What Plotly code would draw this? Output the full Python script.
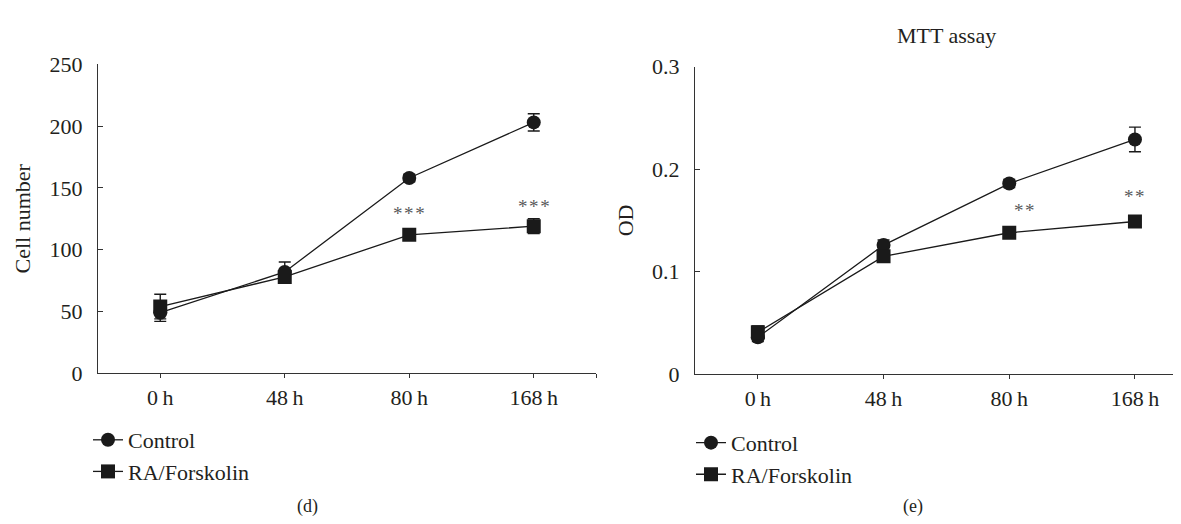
import plotly.graph_objects as go

# ---- data ----
time_labels = ["0\u2009h", "48\u2009h", "80\u2009h", "168\u2009h"]
series_names = ["Control", "RA/Forskolin"]

cell_control = [49, 82, 158, 203]
cell_control_err = [7, 8, 3, 7]
cell_ra = [54, 78, 112, 119]
cell_ra_err = [10, 5, 3, 6]

od_control = [0.036, 0.126, 0.186, 0.229]
od_control_err = [0.004, 0.005, 0.004, 0.012]
od_ra = [0.041, 0.115, 0.138, 0.149]
od_ra_err = [0.006, 0.003, 0.002, 0.003]

cell_sig_text = ["*\u200a*\u200a*", "*\u200a*\u200a*"]
cell_sig_x = [2, 3]
cell_sig_y = [129, 135]
od_sig_text = ["*\u200a*", "*\u200a*"]
od_sig_x = [2.12, 3]
od_sig_y = [0.160, 0.173]

FONT = "Liberation Serif"
TXT = "#231f20"
FS = 22
SIG_COLOR = "#58595b"

idx = list(range(len(time_labels)))

fig = go.Figure()

def add_series(y, err, name, symbol, xa, ya, legend):
    fig.add_trace(go.Scatter(
        x=idx, y=y, name=name, mode="lines+markers",
        xaxis=xa, yaxis=ya, legend=legend, showlegend=True,
        line=dict(color="#1a1a1a", width=1.3),
        marker=dict(symbol=symbol, size=14, color="#1a1a1a"),
        error_y=dict(type="data", array=err, visible=True,
                     color="#1a1a1a", thickness=1.4, width=6),
    ))

add_series(cell_control, cell_control_err, series_names[0], "circle", "x", "y", "legend")
add_series(cell_ra, cell_ra_err, series_names[1], "square", "x", "y", "legend")
add_series(od_control, od_control_err, series_names[0], "circle", "x2", "y2", "legend2")
add_series(od_ra, od_ra_err, series_names[1], "square", "x2", "y2", "legend2")

W, H = 1181, 524

axis_common = dict(
    showline=True, linecolor="#333333", linewidth=1.4,
    showgrid=False, zeroline=False,
    tickfont=dict(family=FONT, size=FS, color=TXT),
)

fig.update_layout(
    width=W, height=H,
    margin=dict(l=0, r=0, t=0, b=0),
    paper_bgcolor="white", plot_bgcolor="white",
    font=dict(family=FONT, size=FS, color=TXT),
    xaxis=dict(domain=[90 / W, 588 / W], range=[-0.5, 3.5],
               tickmode="array", tickvals=idx + [3.5], ticktext=time_labels + [""],
               ticks="outside", ticklen=4, tickcolor="#333333", anchor="y",
               **axis_common),
    yaxis=dict(domain=[1 - 371 / H, 1 - 46.5 / H], range=[0, 250],
               tickvals=[0, 50, 100, 150, 200, 250],
               ticks="inside", ticklen=5, tickcolor="#333333", anchor="x",
               ticklabelstandoff=10,
               title=dict(text="Cell number", standoff=12,
                          font=dict(family=FONT, size=FS, color=TXT)),
               **axis_common),
    xaxis2=dict(domain=[687 / W, 1.0], range=[-0.5, 3.43],
                tickmode="array", tickvals=idx, ticktext=time_labels,
                ticks="outside", ticklen=4, tickcolor="#333333", anchor="y2",
                **axis_common),
    yaxis2=dict(domain=[1 - 372 / H, 1 - 49 / H], range=[0, 0.3],
                tickvals=[0, 0.1, 0.2, 0.3], ticktext=["0", "0.1", "0.2", "0.3"],
                ticks="inside", ticklen=5, tickcolor="#333333", anchor="x2",
                ticklabelstandoff=10,
                title=dict(text="OD", standoff=12,
                           font=dict(family=FONT, size=FS, color=TXT)),
                **axis_common),
    legend=dict(x=80 / W, y=1 - 419 / H, xanchor="left", yanchor="top",
                bgcolor="rgba(0,0,0,0)", font=dict(family=FONT, size=FS, color=TXT),
                tracegroupgap=0, itemwidth=30),
    legend2=dict(x=683 / W, y=1 - 422 / H, xanchor="left", yanchor="top",
                 bgcolor="rgba(0,0,0,0)", font=dict(family=FONT, size=FS, color=TXT),
                 tracegroupgap=0, itemwidth=30),
)

for t, xv, yv in zip(cell_sig_text, cell_sig_x, cell_sig_y):
    fig.add_annotation(x=xv, y=yv, xref="x", yref="y", text=t, showarrow=False,
                       font=dict(family=FONT, size=19, color=SIG_COLOR))
for t, xv, yv in zip(od_sig_text, od_sig_x, od_sig_y):
    fig.add_annotation(x=xv, y=yv, xref="x2", yref="y2", text=t, showarrow=False,
                       font=dict(family=FONT, size=19, color=SIG_COLOR))

fig.add_annotation(x=938 / W, y=1 - 16 / H, xref="paper", yref="paper",
                   xanchor="center", yanchor="middle",
                   text="MTT assay", showarrow=False,
                   font=dict(family=FONT, size=FS, color=TXT))
fig.add_annotation(x=299 / W, y=1 - 511 / H, xref="paper", yref="paper",
                   xanchor="center", yanchor="middle",
                   text="(d)", showarrow=False,
                   font=dict(family=FONT, size=FS - 4, color=TXT))
fig.add_annotation(x=905 / W, y=1 - 511 / H, xref="paper", yref="paper",
                   xanchor="center", yanchor="middle",
                   text="(e)", showarrow=False,
                   font=dict(family=FONT, size=FS - 4, color=TXT))

fig.write_html("out.html")
